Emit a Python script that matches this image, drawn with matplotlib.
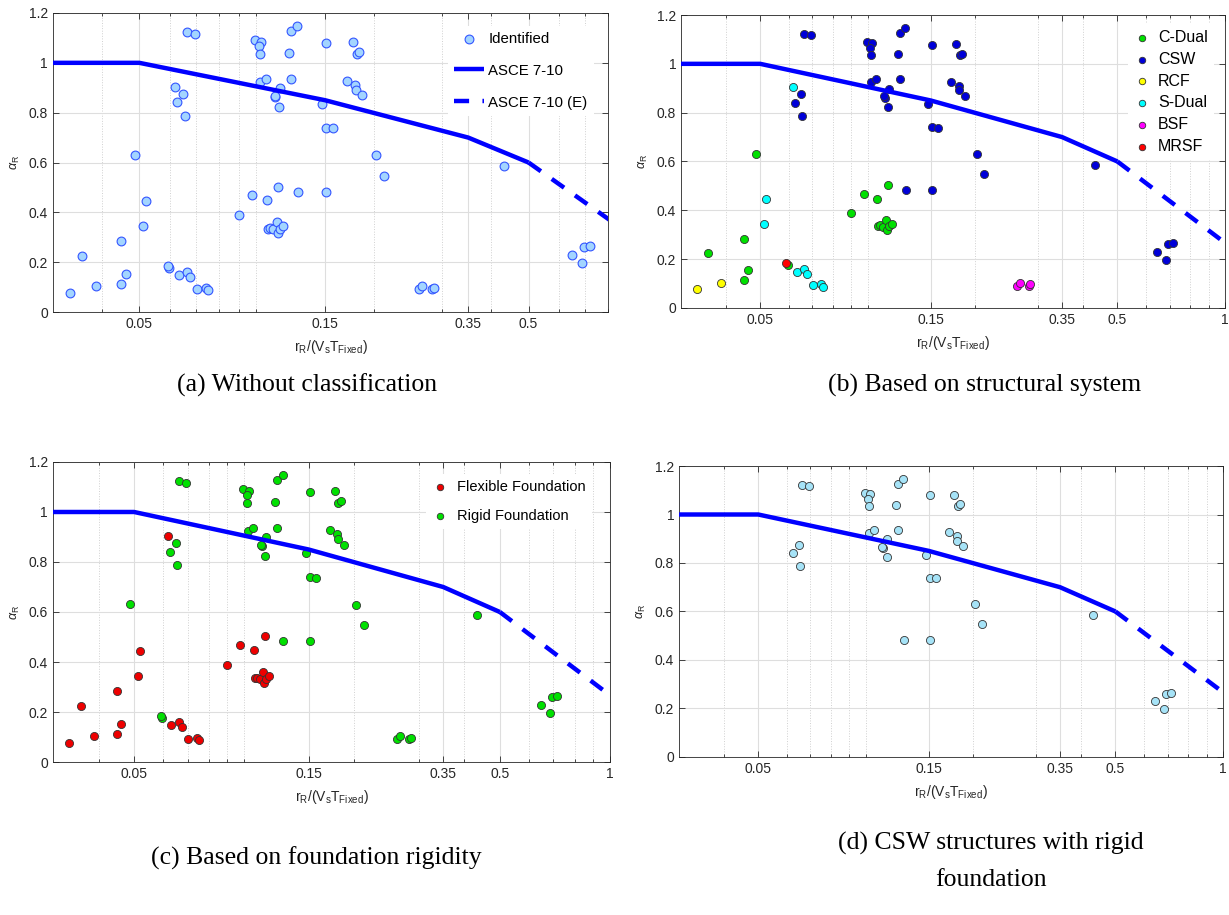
import numpy as np
import matplotlib
matplotlib.use('Agg')
import matplotlib.pyplot as plt
from matplotlib.ticker import FixedLocator, FixedFormatter, NullFormatter, FuncFormatter

plt.rcParams['font.family'] = ['Liberation Sans', 'DejaVu Sans']
plt.rcParams['mathtext.fontset'] = 'custom'
plt.rcParams['mathtext.rm'] = 'Liberation Sans'
plt.rcParams['mathtext.it'] = 'Liberation Sans:italic'

# ASCE 7-10 table values (alpha vs r/(Vs T)) and linear extension (E)
asce_x = [0.03, 0.05, 0.15, 0.35, 0.5]
asce_y = [1.0, 1.0, 0.85, 0.70, 0.60]
asce_ext_x = [0.5, 1.0]
asce_ext_y = [0.60, 0.267]

# identified cases
r_ratio = [0.0332, 0.0388,
           0.0357, 0.0449, 0.0449, 0.0461, 0.0487, 0.0597, 0.0900, 0.0974, 0.1063, 0.1137,
           0.1069, 0.1084, 0.1105, 0.1127, 0.1134, 0.1150, 0.1168,
           0.0512, 0.0520, 0.0617, 0.0632, 0.0663, 0.0675, 0.0703, 0.0742, 0.0750,
           0.0591,
           0.0625, 0.0649, 0.0654, 0.0663, 0.0695, 0.0994, 0.1028, 0.1017, 0.1019, 0.1213,
           0.1230, 0.1274, 0.1024, 0.1056, 0.1119, 0.1113, 0.1150, 0.1143, 0.1230, 0.1279,
           0.1472, 0.1510, 0.1510, 0.1510, 0.1768, 0.1810, 0.1839, 0.1713, 0.1796, 0.1803,
           0.1869, 0.1574, 0.2022, 0.2120, 0.4325, 0.6463, 0.6845, 0.6925, 0.7173,
           0.2610, 0.2670, 0.2830, 0.2850]
alpha_r = [0.076, 0.103,
           0.225, 0.284, 0.114, 0.154, 0.630, 0.177, 0.388, 0.468, 0.448, 0.503,
           0.335, 0.338, 0.333, 0.362, 0.318, 0.334, 0.345,
           0.346, 0.445, 0.904, 0.147, 0.161, 0.141, 0.094, 0.098, 0.088,
           0.184,
           0.841, 0.876, 0.788, 1.122, 1.117, 1.090, 1.085, 1.066, 1.036, 1.039,
           1.126, 1.146, 0.924, 0.937, 0.862, 0.868, 0.898, 0.823, 0.936, 0.483,
           0.835, 1.079, 0.740, 0.483, 1.082, 1.035, 1.042, 0.927, 0.910, 0.892,
           0.869, 0.737, 0.629, 0.547, 0.587, 0.229, 0.197, 0.261, 0.265,
           0.092, 0.104, 0.092, 0.098]
system = (['RCF'] * 2 + ['C-Dual'] * 17 + ['S-Dual'] * 9 + ['MRSF']
          + ['CSW'] * 39 + ['BSF'] * 4)
foundation = (['Flexible'] * 2
              + ['Flexible'] * 4 + ['Rigid'] * 2 + ['Flexible'] * 11
              + ['Flexible'] * 9 + ['Rigid'] + ['Rigid'] * 39 + ['Rigid'] * 4)

systems = ['C-Dual', 'CSW', 'RCF', 'S-Dual', 'BSF', 'MRSF']
system_colors = {'C-Dual': '#00e000', 'CSW': '#0000d8', 'RCF': '#ffff00',
                 'S-Dual': '#00ffff', 'BSF': '#ff00ff', 'MRSF': '#ff0000'}
foundations = ['Flexible', 'Rigid']
foundation_colors = {'Flexible': '#ee0000', 'Rigid': '#00e000'}

x_ticks = [0.05, 0.15, 0.35, 0.5, 1]
x_ticklabels = ['0.05', '0.15', '0.35', '0.5', '1']
x_minor = [0.04, 0.06, 0.07, 0.08, 0.09, 0.1, 0.2, 0.3, 0.4, 0.6, 0.7, 0.8, 0.9]

r_ratio = np.array(r_ratio)
alpha_r = np.array(alpha_r)
system = np.array(system)
foundation = np.array(foundation)

fig = plt.figure(figsize=(12.29, 9.15), dpi=100)

ax_a = fig.add_axes([0.0431, 0.659, 0.4516, 0.3268])
ax_b = fig.add_axes([0.5541, 0.6634, 0.4426, 0.3202])
ax_c = fig.add_axes([0.0431, 0.1672, 0.4532, 0.3279])
ax_d = fig.add_axes([0.5525, 0.1727, 0.4426, 0.318])


def style_axes(ax, xmax):
    ax.set_xscale('log')
    ax.set_xlim(0.03, xmax)
    ax.set_ylim(0, 1.2)
    ax.xaxis.set_major_locator(FixedLocator(x_ticks))
    ax.xaxis.set_major_formatter(FixedFormatter(x_ticklabels))
    ax.xaxis.set_minor_locator(FixedLocator(x_minor))
    ax.xaxis.set_minor_formatter(NullFormatter())
    ax.set_yticks(np.arange(0, 1.21, 0.2))
    ax.yaxis.set_major_formatter(FuncFormatter(lambda v, p: f'{v:g}'))
    ax.tick_params(which='both', direction='in', top=True, right=True,
                   color='#262626', labelcolor='#262626', labelsize=10, width=0.6)
    ax.tick_params(which='major', length=4)
    ax.tick_params(which='minor', length=2)
    ax.grid(True, which='major', color='#dedede', lw=0.8)
    ax.grid(True, which='minor', axis='x', color='#d0d0d0', lw=0.7, ls=':')
    for s in ax.spines.values():
        s.set_color('#262626')
        s.set_linewidth(0.6)
    ax.set_axisbelow(True)
    ax.set_xlabel(r'$\mathregular{r_R/(V_sT_{Fixed})}$', fontsize=10, color='#262626', labelpad=5)
    ax.set_ylabel(r'$\alpha_\mathregular{R}$', fontsize=9, color='#262626', labelpad=5)


def asce_lines(ax):
    l1, = ax.plot(asce_x, asce_y, color='#0000ff', lw=3.2, solid_capstyle='butt', zorder=3)
    l2, = ax.plot(asce_ext_x, asce_ext_y, color='#0000ff', lw=3.2, ls=(0, (3.4, 3.0)),
                  dash_capstyle='butt', zorder=3)
    return l1, l2


leg_kw = dict(frameon=True, facecolor='white', edgecolor='none', framealpha=1, fancybox=False,
              loc='upper right', borderaxespad=0)

# (a) all identified cases
style_axes(ax_a, 0.8)
sc = ax_a.scatter(r_ratio, alpha_r, s=40, c='#a3d5ff', edgecolors='#3355ff', linewidths=0.8, zorder=2)
l1, l2 = asce_lines(ax_a)
ax_a.legend([sc, l1, l2], ['Identified', 'ASCE 7-10', 'ASCE 7-10 (E)'],
            bbox_to_anchor=(0.974, 0.958), fontsize=10.8, labelspacing=1.2,
            handlelength=2.0, handletextpad=0.3, **leg_kw)

# (b) by structural system
style_axes(ax_b, 1.0)
handles = []
for name in systems:
    m = system == name
    h = ax_b.scatter(r_ratio[m], alpha_r[m], s=34, c=system_colors[name], edgecolors='#333333',
                     linewidths=0.6, zorder=2)
    handles.append(h)
asce_lines(ax_b)
ax_b.legend(handles, systems, bbox_to_anchor=(0.980, 0.970), fontsize=11.5, labelspacing=0.42,
            handlelength=1.0, handletextpad=0.5, markerscale=0.8, **leg_kw)

# (c) by foundation rigidity
style_axes(ax_c, 1.0)
handles = []
for name in foundations:
    m = foundation == name
    h = ax_c.scatter(r_ratio[m], alpha_r[m], s=34, c=foundation_colors[name], edgecolors='#333333',
                     linewidths=0.6, zorder=2)
    handles.append(h)
asce_lines(ax_c)
ax_c.legend(handles, ['Flexible Foundation', 'Rigid Foundation'], bbox_to_anchor=(0.967, 0.959),
            fontsize=10.5, labelspacing=1.02, handlelength=1.0, handletextpad=0.7,
            markerscale=0.8, **leg_kw)

# (d) CSW with rigid foundation
style_axes(ax_d, 1.0)
m = (system == 'CSW') & (foundation == 'Rigid')
ax_d.scatter(r_ratio[m], alpha_r[m], s=34, c='#a6e3f7', edgecolors='#333333', linewidths=0.6, zorder=2)
asce_lines(ax_d)

cap = dict(family=['Liberation Serif', 'DejaVu Serif'], fontsize=18.5, ha='center', va='center', color='black')
fig.text(0.25, 1 - 385 / 915, '(a) Without classification', **cap)
fig.text(0.801, 1 - 385 / 915, '(b) Based on structural system', **cap)
fig.text(0.257, 1 - 858 / 915, '(c) Based on foundation rigidity', **cap)
fig.text(0.806, 1 - 861 / 915, '(d) CSW structures with rigid\nfoundation', linespacing=1.82, **cap)

fig.savefig('out.png', dpi=100)
